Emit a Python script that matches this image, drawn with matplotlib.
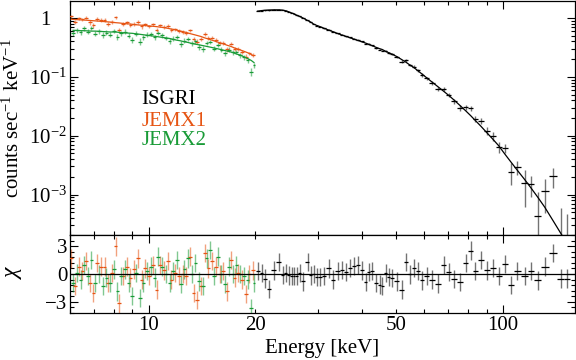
import matplotlib
matplotlib.use('Agg')
import matplotlib.pyplot as plt
import numpy as np
from matplotlib.ticker import FixedLocator, FixedFormatter, FuncFormatter

# --- DATA ---
# ISGRI bins: centre energy [keV], model [counts/s/keV], delchi, fractional error
isgri_energy = [20.32, 20.85, 21.27, 21.83, 22.55, 23.29, 23.90, 24.38, 24.86, 25.35,
                25.68, 26.19, 26.70, 27.23, 28.13, 28.69, 29.26, 29.83, 30.42, 31.22,
                32.25, 33.10, 34.19, 35.10, 36.02, 36.97, 37.95, 38.95, 39.98, 41.03,
                41.84, 42.66, 44.0, 44.9, 45.7, 46.71, 47.64, 48.57, 50.19, 51.85,
                53.21, 54.61, 56.05, 57.53, 59.04, 60.99, 63.01, 65.52, 68.13, 70.39,
                72.71, 75.60, 78.61, 81.21, 83.35, 86.68, 90.12, 93.71, 97.43, 101.3,
                105.3, 109.5, 115.4, 120.0, 125.6, 131.4, 138.5, 145.8, 151.6]
isgri_model = [1.31, 1.34, 1.355, 1.37, 1.38, 1.38, 1.365, 1.33, 1.28, 1.22,
               1.19, 1.12, 1.07, 1.01, 0.908, 0.856, 0.789, 0.750, 0.718, 0.675,
               0.625, 0.589, 0.547, 0.516, 0.491, 0.465, 0.440, 0.417, 0.396, 0.375,
               0.358, 0.342, 0.316, 0.302, 0.292, 0.272, 0.258, 0.245, 0.222, 0.197,
               0.179, 0.160, 0.145, 0.128, 0.113, 0.0966, 0.0826, 0.0686, 0.0569, 0.0485,
               0.0409, 0.0330, 0.0265, 0.0219, 0.0186, 0.0146, 0.0113, 0.00877, 0.00675, 0.00491,
               0.00362, 0.00267, 0.00179, 0.00131, 0.00090, 0.00061, 0.000365, 0.00022, 0.00015]
isgri_chi = [0.3, 0.1, -0.5, -1.6, 0.4, 1.3, -0.1, 0.1, -0.15, -0.25,
             -0.2, -0.25, 0.1, -0.8, 1.3, -0.15, 0.0, -0.35, -0.3, -0.25,
             0.6, -0.6, 0.3, 0.45, 0.2, 0.65, 0.9, 0.95, 0.4, -0.9,
             0.2, 0.3, -1.0, -1.15, -1.3, 0.1, -0.35, -0.45, -0.8, -1.7,
             1.3, -0.05, 0.65, 0.3, -0.7, -0.25, -0.6, -1.05, 0.95, 0.2,
             -0.55, -0.9, 1.2, 2.55, 0.3, 1.55, 0.4, 0.65, -0.2, 1.1,
             -1.2, 0.35, -0.2, 0.3, -0.7, 0.8, 2.3, -0.5, -0.5]
isgri_frac_err = [0.010, 0.010, 0.010, 0.010, 0.010, 0.010, 0.010, 0.011, 0.011, 0.011,
                  0.011, 0.012, 0.012, 0.012, 0.013, 0.013, 0.014, 0.014, 0.015, 0.015,
                  0.016, 0.017, 0.018, 0.019, 0.020, 0.021, 0.022, 0.023, 0.025, 0.026,
                  0.027, 0.028, 0.030, 0.031, 0.032, 0.034, 0.036, 0.038, 0.041, 0.044,
                  0.047, 0.050, 0.053, 0.056, 0.060, 0.065, 0.070, 0.077, 0.085, 0.092,
                  0.10, 0.11, 0.12, 0.13, 0.14, 0.15, 0.17, 0.18, 0.20, 0.22,
                  0.27, 0.30, 0.55, 0.45, 0.75, 1.1, 2.0, 3.3, 4.1]

jemx1_energy = [6.05, 6.2, 6.35, 6.5, 6.66, 6.82, 6.99, 7.16, 7.33, 7.51,
                7.69, 7.88, 8.07, 8.27, 8.47, 8.68, 8.89, 9.11, 9.33, 9.56,
                9.79, 10.03, 10.28, 10.53, 10.79, 11.05, 11.32, 11.6, 11.88, 12.17,
                12.47, 12.77, 13.08, 13.4, 13.73, 14.07, 14.41, 14.76, 15.12, 15.49,
                15.87, 16.26, 16.66, 17.07, 17.49, 17.92, 18.36, 18.81, 19.27, 19.74]
jemx1_model = [0.955, 0.945, 0.935, 0.93, 0.92, 0.91, 0.90, 0.89, 0.88, 0.87,
               0.86, 0.85, 0.835, 0.825, 0.81, 0.80, 0.79, 0.775, 0.765, 0.755,
               0.745, 0.735, 0.725, 0.715, 0.70, 0.69, 0.67, 0.65, 0.635, 0.61,
               0.59, 0.57, 0.545, 0.525, 0.505, 0.485, 0.46, 0.44, 0.42, 0.40,
               0.38, 0.365, 0.345, 0.33, 0.31, 0.295, 0.28, 0.265, 0.25, 0.23]
jemx1_chi = [1.7, -1.3, 0.8, 0.3, 1.4, -1.0, -2.1, 1.2, 0.8, 0.8,
             -1.0, 0.1, 3.0, -3.2, -0.25, 0.8, -0.4, 0.5, 1.7, -0.6,
             0.6, -0.25, 1.0, -1.7, 1.0, 0.4, 1.4, -0.6, 0.1, -0.25,
             0.0, -0.25, 1.9, -2.1, -2.8, -1.3, 2.3, 0.6, 1.4, 0.8,
             0.0, 0.3, -1.9, 1.5, -0.4, 0.1, -0.6, -2.2, 0.0, 0.4]
jemx1_frac_err = 0.075

jemx2_energy = [6.12, 6.27, 6.43, 6.58, 6.74, 6.9, 7.07, 7.24, 7.42, 7.6,
                7.78, 7.97, 8.17, 8.37, 8.57, 8.78, 9.0, 9.22, 9.44, 9.67,
                9.91, 10.15, 10.4, 10.66, 10.92, 11.18, 11.46, 11.74, 12.02, 12.32,
                12.62, 12.92, 13.24, 13.56, 13.9, 14.24, 14.58, 14.94, 15.3, 15.68,
                16.06, 16.46, 16.86, 17.28, 17.7, 18.14, 18.58, 19.04, 19.5, 19.85]
jemx2_model = [0.62, 0.615, 0.61, 0.61, 0.605, 0.60, 0.60, 0.595, 0.59, 0.585,
               0.58, 0.58, 0.575, 0.565, 0.56, 0.555, 0.55, 0.54, 0.53, 0.52,
               0.51, 0.50, 0.49, 0.48, 0.47, 0.46, 0.45, 0.435, 0.42, 0.41,
               0.395, 0.385, 0.37, 0.36, 0.35, 0.34, 0.33, 0.32, 0.31, 0.30,
               0.29, 0.28, 0.27, 0.26, 0.245, 0.235, 0.22, 0.205, 0.19, 0.175]
jemx2_chi = [-1.0, 0.1, -0.6, 1.0, -0.25, 1.5, -1.0, 0.0, -1.3, -0.4,
             -1.0, 0.5, -1.9, -0.25, 0.5, -1.0, -2.4, 0.1, -2.6, -1.0,
             0.3, 0.8, -0.4, 1.9, 0.8, 0.0, -1.0, 0.3, 1.5, -1.1,
             0.5, 1.7, 0.0, 1.2, -0.8, -1.3, 1.7, 2.6, -0.25, 1.9,
             0.0, -1.1, 0.8, 0.0, 1.0, 0.0, -0.25, -0.6, -3.7, -1.0]
jemx2_frac_err = 0.095

instrument_names = ['ISGRI', 'JEMX1', 'JEMX2']
instrument_colors = ['black', '#e65514', '#199b37']

y_major = [1e-3, 1e-2, 1e-1, 1]
y_major_labels = ['10$^{-3}$', '10$^{-2}$', '10$^{-1}$', '1   ']
x_major = [10, 100]
x_minor = [6, 7, 8, 9, 20, 30, 40, 50, 60, 70, 80, 90]
x_labelled = {10: '10', 20: '20', 50: '50', 100: '100'}
chi_major = [-3, 0, 3]


def bin_edges(centres):
    c = np.asarray(centres, dtype=float)
    mid = np.sqrt(c[1:] * c[:-1])
    lo = np.concatenate([[c[0] ** 2 / mid[0]], mid])
    hi = np.concatenate([mid, [c[-1] ** 2 / mid[-1]]])
    return lo, hi


def draw_instrument(ax_top, ax_res, energy, model, chi, frac, color):
    e = np.asarray(energy, dtype=float)
    m = np.asarray(model, dtype=float)
    c = np.asarray(chi, dtype=float)
    sig = m * np.asarray(frac, dtype=float)
    d = m + c * sig
    lo, hi = bin_edges(e)

    ok = d > 0
    ax_top.vlines(e, np.clip(d - sig, 1e-8, None), d + sig, color=color, lw=1.0, alpha=0.55, zorder=2)
    ax_top.hlines(d[ok], lo[ok], hi[ok], color=color, lw=0.9, zorder=3)
    ax_top.plot(e, m, color=color, lw=0.9, zorder=4)

    ax_res.vlines(e, c - 1, c + 1, color=color, lw=1.0, alpha=0.55, zorder=2)
    ax_res.hlines(c, lo, hi, color=color, lw=0.9, zorder=3)


def create_spectrum_plot():
    plt.rcParams['font.family'] = 'Liberation Serif'
    plt.rcParams['mathtext.fontset'] = 'custom'
    plt.rcParams['mathtext.rm'] = 'Liberation Serif'
    plt.rcParams['mathtext.it'] = 'Liberation Serif:italic'

    W, H = 576, 360
    fig = plt.figure(figsize=(W / 100, H / 100), dpi=100)
    fig.patch.set_facecolor('white')

    left, right = 70 / W, 575 / W
    ax_top = fig.add_axes([left, 1 - 235 / H, right - left, 234 / H])
    ax_res = fig.add_axes([left, 1 - 313 / H, right - left, 78 / H])

    draw_instrument(ax_top, ax_res, jemx1_energy, jemx1_model, jemx1_chi, jemx1_frac_err, instrument_colors[1])
    draw_instrument(ax_top, ax_res, jemx2_energy, jemx2_model, jemx2_chi, jemx2_frac_err, instrument_colors[2])
    draw_instrument(ax_top, ax_res, isgri_energy, isgri_model, isgri_chi, isgri_frac_err, instrument_colors[0])

    ax_res.axhline(0, color='black', lw=0.9, zorder=5)

    for ax in (ax_top, ax_res):
        ax.set_xscale('log')
        ax.set_xlim(6, 160)
        ax.xaxis.set_major_locator(FixedLocator(x_major))
        ax.xaxis.set_minor_locator(FixedLocator(x_minor))
        ax.tick_params(which='both', direction='in', top=True, right=True, width=0.8,
                       colors='black', labelsize=15)
        ax.tick_params(which='major', length=5.8)
        ax.tick_params(which='minor', length=2.9)
        for sp in ax.spines.values():
            sp.set_linewidth(0.9)

    ax_top.set_yscale('log')
    ax_top.set_ylim(2.05e-4, 1.95)
    ax_top.yaxis.set_major_locator(FixedLocator(y_major))
    ax_top.yaxis.set_major_formatter(FixedFormatter(y_major_labels))
    minor_y = [k * 10.0 ** p for p in range(-4, 1) for k in range(2, 10)]
    ax_top.yaxis.set_minor_locator(FixedLocator(minor_y))
    ax_top.yaxis.set_minor_formatter(FuncFormatter(lambda v, p: ''))
    ax_top.tick_params(axis='x', which='both', labelbottom=False)
    ax_top.tick_params(axis='y', pad=2)

    ax_res.set_ylim(-4.25, 4.25)
    ax_res.yaxis.set_major_locator(FixedLocator(chi_major))
    ax_res.yaxis.set_major_formatter(FixedFormatter(['\u22123', '0', '3']))
    ax_res.yaxis.set_minor_locator(FixedLocator([-4.2, -3.6, -2.4, -1.8, -1.2, -0.6,
                                                 0.6, 1.2, 1.8, 2.4, 3.6, 4.2]))
    ax_res.xaxis.set_major_formatter(FuncFormatter(lambda v, p: x_labelled.get(int(round(v)), '')))
    ax_res.xaxis.set_minor_formatter(FuncFormatter(lambda v, p: x_labelled.get(int(round(v)), '')))
    ax_res.tick_params(axis='x', which='both', pad=2)
    ax_res.tick_params(axis='y', pad=2)

    # legend as coloured labels
    legend_y = [0.577, 0.483, 0.402]
    for name, col, yy in zip(instrument_names, instrument_colors, legend_y):
        ax_top.text(0.141, yy, name, color=col, fontsize=15, ha='left', va='center',
                    transform=ax_top.transAxes)

    fig.text(13 / W, 1 - 118 / H, 'counts sec$^{-1}$ keV$^{-1}$', rotation=90,
             ha='center', va='center', fontsize=15)
    fig.text(13 / W, 1 - 274 / H, '\u03c7', rotation=90, style='italic',
             ha='center', va='center', fontsize=17)
    fig.text(322.5 / W, 1 - 348 / H, 'Energy [keV]', ha='center', va='center', fontsize=15)

    fig.savefig('out.png', dpi=100)


if __name__ == '__main__':
    create_spectrum_plot()
